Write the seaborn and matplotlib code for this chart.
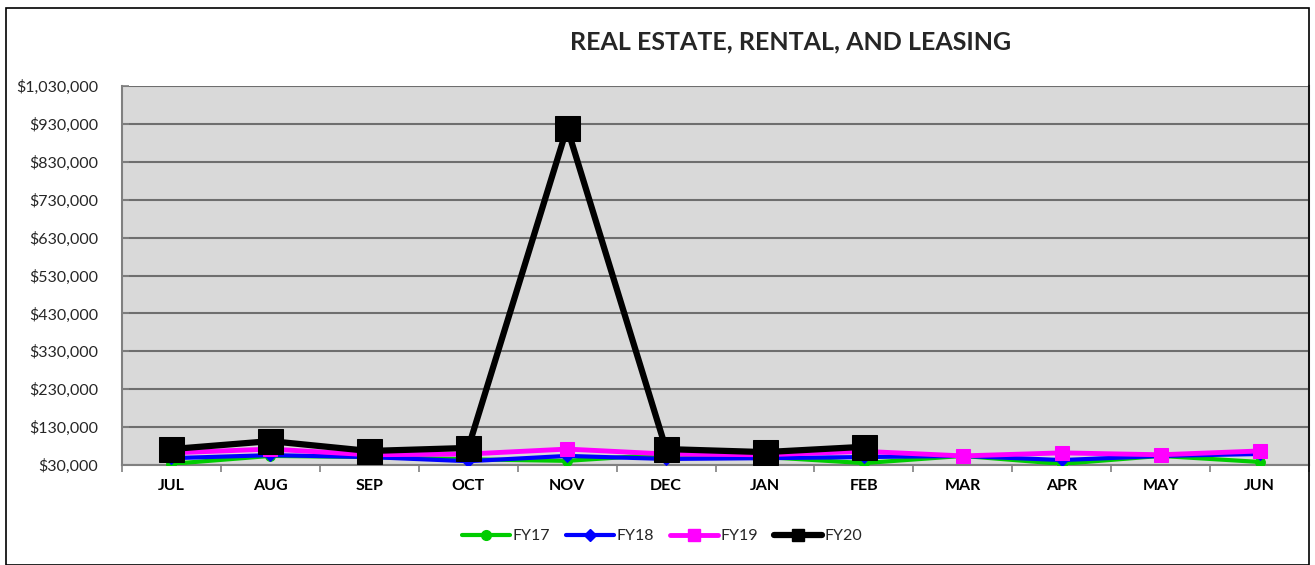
import matplotlib
matplotlib.use("Agg")
import matplotlib.pyplot as plt
import matplotlib.ticker as mticker
from matplotlib.patches import Rectangle
from matplotlib.lines import Line2D
import seaborn as sns
import pandas as pd

months = ["JUL", "AUG", "SEP", "OCT", "NOV", "DEC", "JAN", "FEB", "MAR", "APR", "MAY", "JUN"]
fy17 = [33000, 54000, 51000, 45000, 41000, 58000, 51000, 35000, 54000, 33000, 54000, 38000]
fy18 = [48000, 56000, 51000, 40000, 54000, 46000, 48000, 51000, 54000, 43000, 54000, 59000]
fy19 = [62000, 72000, 57000, 59000, 72000, 59000, 57000, 66000, 54000, 62000, 57000, 67000]
fy20 = [72000, 93000, 67000, 75000, 920000, 72000, 64000, 78000]
series_names = ["FY17", "FY18", "FY19", "FY20"]
y_ticks = list(range(30000, 1030001, 100000))

sns.set_theme(style="white")
plt.rcParams["font.family"] = ["Lato", "DejaVu Sans"]

fig = plt.figure(figsize=(13.15, 5.65), dpi=100)
ax = fig.add_axes([122 / 1315, 1 - 465 / 565, (1309 - 122) / 1315, (465 - 86) / 565])
ax.set_facecolor("#d9d9d9")

styles = {
    "FY17": dict(color="#00cc00", marker="o", lw=3, ms=7, lms=7),
    "FY18": dict(color="#0000ff", marker="D", lw=3, ms=6, lms=6),
    "FY19": dict(color="#ff00ff", marker="s", lw=3.5, ms=10, lms=8),
    "FY20": dict(color="#000000", marker="s", lw=4.5, ms=18, lms=8),
}
values = {"FY17": fy17, "FY18": fy18, "FY19": fy19, "FY20": fy20}

for i, name in enumerate(series_names):
    vals = values[name]
    df = pd.DataFrame({"month": months[:len(vals)], "value": vals})
    st = styles[name]
    sns.lineplot(data=df, x="month", y="value", ax=ax, sort=False, color=st["color"],
                 marker=st["marker"], linewidth=st["lw"], markersize=st["ms"],
                 markeredgecolor=st["color"], zorder=3 + i, legend=False)

ax.set_xlim(-0.5, len(months) - 0.5)
ax.set_ylim(y_ticks[0], y_ticks[-1])
ax.set_yticks(y_ticks)
ax.yaxis.set_major_formatter(mticker.FuncFormatter(lambda v, p: f"${v:,.0f}"))
ax.set_xticks(range(len(months)))
ax.set_xticklabels(months, fontweight="bold")
ax.xaxis.set_minor_locator(mticker.FixedLocator([i - 0.5 for i in range(len(months) + 1)]))
ax.tick_params(axis="x", which="major", length=0, pad=10, labelsize=11.5, colors="black")
ax.tick_params(axis="x", which="minor", length=5, width=1.2, color="#808080", direction="out", bottom=True)
ax.tick_params(axis="y", which="major", length=5, width=1.2, color="#808080", direction="in", left=True,
               labelsize=11.5, pad=17)
ax.grid(axis="y", color="#6e6e6e", linewidth=1.5, zorder=1)
ax.set_axisbelow(True)
ax.set_xlabel("")
ax.set_ylabel("")
ax.spines["top"].set_visible(False)
for s in ["left", "bottom", "right"]:
    ax.spines[s].set_color("#808080")
    ax.spines[s].set_linewidth(1.5)

handles = [Line2D([], [], color=styles[n]["color"], marker=styles[n]["marker"], lw=styles[n]["lw"],
                  markersize=styles[n]["lms"], markeredgecolor=styles[n]["color"]) for n in series_names]
fig.legend(handles, series_names, loc="center", bbox_to_anchor=(662 / 1315, 1 - 536 / 565), ncol=4,
           frameon=False, fontsize=11.5, handlelength=3.0, columnspacing=1.0, handletextpad=0.15)

fig.text(791 / 1315, 1 - 42 / 565, "REAL ESTATE, RENTAL, AND LEASING", ha="center", va="center",
         fontsize=18, fontweight="bold")

fig.patches.append(Rectangle((6 / 1315, 0), 1303 / 1315, 1 - 8 / 565, transform=fig.transFigure,
                             fill=False, edgecolor="black", linewidth=1.2))

fig.savefig("out.png", dpi=100)
